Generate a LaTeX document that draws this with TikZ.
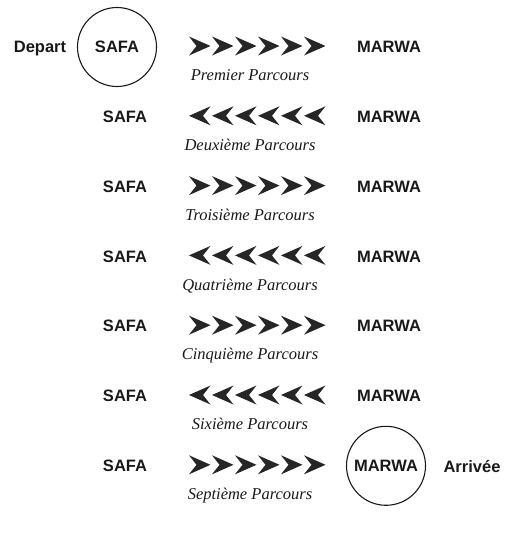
\documentclass[tikz,border=0pt]{standalone}
\usepackage{fontspec}
\setmainfont{Liberation Serif}
\newfontfamily\labfont{Liberation Sans}
\begin{document}
\begin{tikzpicture}[x=1pt,y=-1pt,
  lbl/.style={font=\labfont\bfseries\fontsize{16.5}{16.5}\selectfont, inner sep=0pt, text depth=0pt, text=black!90},
  sub/.style={font=\itshape\fontsize{16.5}{16.5}\selectfont, inner sep=0pt, text depth=0pt, text=black!90},
  ring/.style={draw=black!90, line width=1.1pt, circle, minimum size=79pt, inner sep=0pt},
  chev/.style={fill=black!85}]
\useasboundingbox (0,0) rectangle (510,536);
\foreach \i/\dir/\name in {1/1/Premier, 2/-1/Deuxième, 3/1/Troisième, 4/-1/Quatrième, 5/1/Cinquième, 6/-1/Sixième, 7/1/Septième}{
  \pgfmathsetmacro{\yy}{47+69.8*(\i-1)}
  \ifnum\i=1
    \node[ring, lbl] (safa\i) at (117,\yy) {SAFA};
  \else
    \node[lbl] (safa\i) at (125,\yy) {SAFA};
  \fi
  \ifnum\i=7
    \node[ring, lbl] (marwa\i) at (386,\yy) {MARWA};
  \else
    \node[lbl] (marwa\i) at (389,\yy) {MARWA};
  \fi
  \coordinate (arr\i) at (256,\yy-1);
  \node[sub] (parc\i) at (250,\yy+28) {\name\ Parcours};
  \foreach \k in {0,...,5}{
    \pgfmathsetmacro{\xa}{189+23*\k}
    \ifnum\dir=1
      \fill[chev] ([xshift=\xa-256]arr\i) ++(0,-9.5) -- ++(21.5,9.5) -- ++(-21.5,9.5) -- ++(7.5,-9.5) -- cycle;
    \else
      \fill[chev] ([xshift=\xa-256+21.5]arr\i) ++(0,-9.5) -- ++(-21.5,9.5) -- ++(21.5,9.5) -- ++(-7.5,-9.5) -- cycle;
    \fi
  }
}
\node[lbl] (depart) at (40,47) {Depart};
\node[lbl] (arrivee) at (472,466) {Arrivée};
\end{tikzpicture}
\end{document}
